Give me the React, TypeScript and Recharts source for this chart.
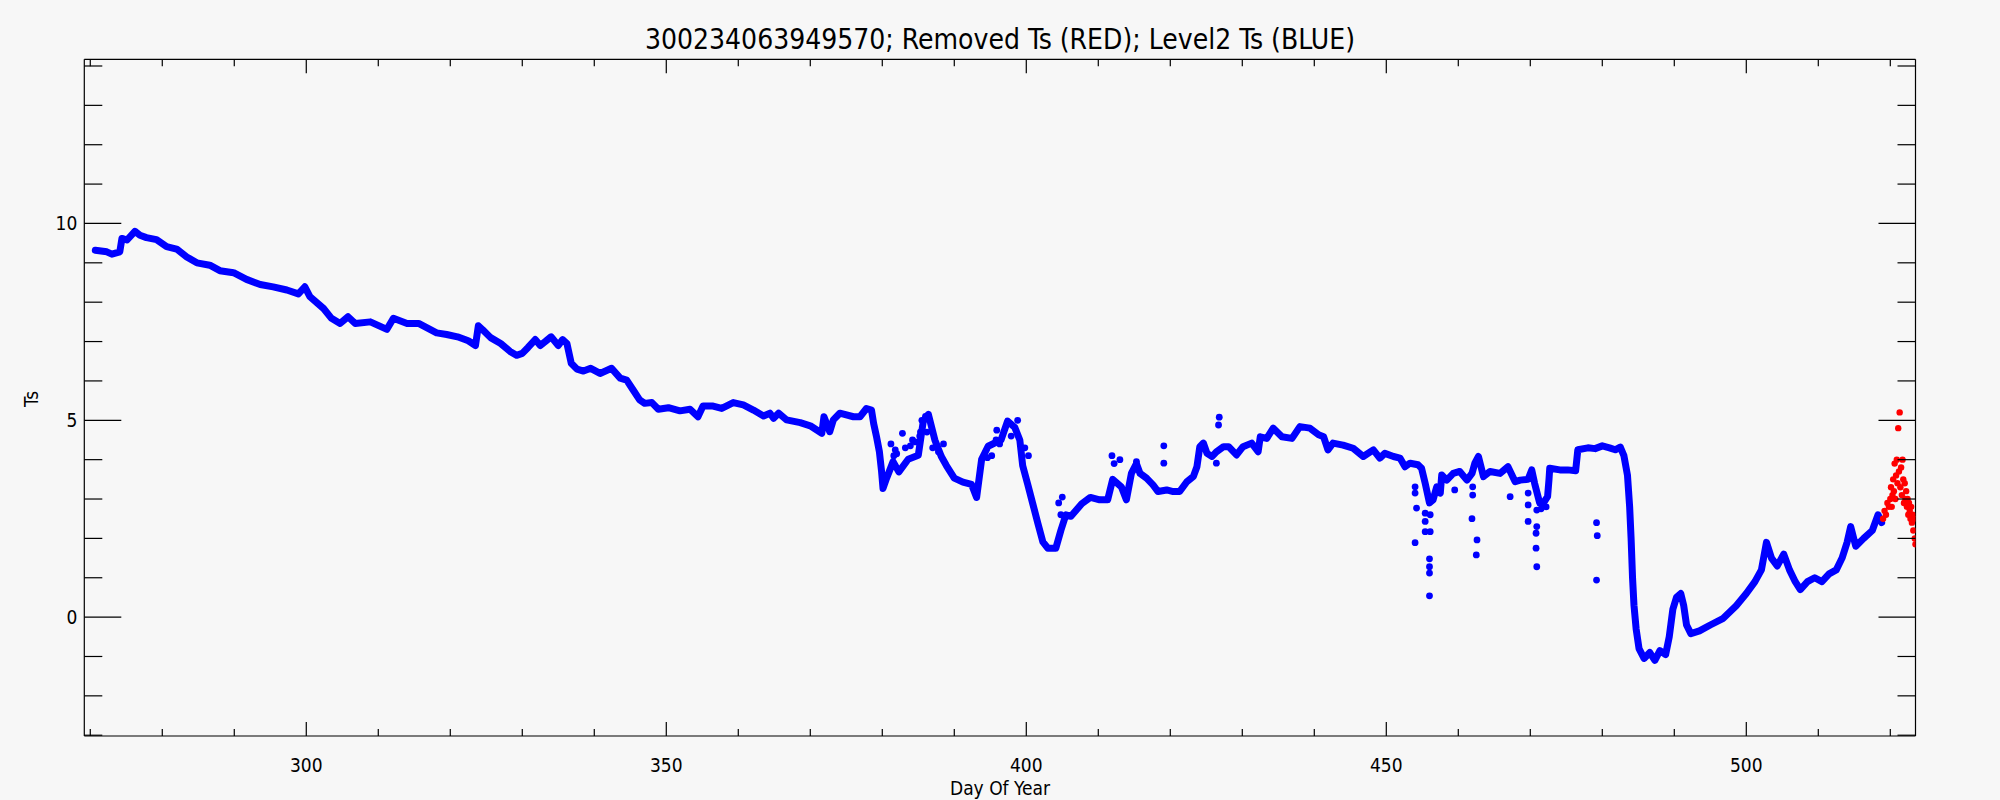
import React from 'react';
import { ComposedChart, XAxis, YAxis, Line, Scatter } from 'recharts';

const TITLE = '300234063949570; Removed Ts (RED); Level2 Ts (BLUE)';
const X_LABEL = 'Day Of Year';
const Y_LABEL = 'Ts';

const xTicks = [270, 280, 290, 300, 310, 320, 330, 340, 350, 360, 370, 380, 390, 400, 410, 420, 430, 440, 450, 460, 470, 480, 490, 500, 510, 520];
const xLabelTicks = [300, 350, 400, 450, 500];
const yTicks = [-3, -2, -1, 0, 1, 2, 3, 4, 5, 6, 7, 8, 9, 10, 11, 12, 13, 14];
const yLabelTicks = [0, 5, 10];

// Level2 Ts main trail (blue)
const trailDays = [
  270.7, 272.3, 273.0, 274.1, 274.4, 275.1, 276.2, 276.9, 277.8, 279.2, 280.6, 282.0, 283.4, 284.8, 286.6, 288.0,
  289.9, 291.7, 293.6, 295.4, 297.3, 298.9, 299.8, 300.5, 302.4, 303.5, 304.7, 305.8, 306.8, 308.9, 311.2, 312.1,
  314.0, 315.6, 318.1, 319.5, 321.0, 322.5, 323.5, 323.9, 324.5, 325.6, 327.0, 328.3, 329.2, 330.0, 330.8, 331.8,
  332.5, 333.2, 334.0, 335.0, 335.6, 336.2, 336.8, 337.6, 338.5, 339.5, 340.8, 342.4, 343.6, 344.5, 345.4, 346.3,
  347.0, 348.0, 348.9, 350.3, 351.9, 353.3, 354.4, 355.1, 356.5, 357.7, 359.3, 360.7, 362.1, 363.5, 364.4, 364.9,
  365.6, 366.7, 368.6, 370.0, 371.6, 371.9, 372.7, 373.2, 374.1, 376.0, 376.9, 377.8, 378.5, 378.8, 379.2, 379.6,
  379.9, 380.1, 380.6, 381.5, 382.3, 383.6, 385.0, 385.7, 386.4, 387.3, 388.2, 388.9, 390.0, 391.2, 392.4, 393.1,
  393.8, 394.7, 396.5, 397.4, 398.4, 399.1, 399.5, 400.2, 400.9, 401.6, 402.3, 403.0, 404.1, 404.8, 405.5, 406.2,
  407.7, 408.9, 410.2, 411.3, 412.0, 413.2, 413.9, 414.6, 415.3, 415.8, 416.7, 417.6, 418.3, 419.5, 420.4, 421.3,
  422.3, 423.2, 423.7, 424.1, 424.6, 425.1, 425.8, 426.4, 427.4, 428.1, 429.2, 430.1, 431.3, 432.2, 432.5, 433.4,
  434.3, 435.5, 436.9, 438.0, 439.4, 440.6, 441.3, 441.9, 442.6, 444.0, 445.4, 446.8, 448.2, 449.1, 449.8, 451.0,
  451.9, 452.6, 453.3, 454.4, 454.9, 455.4, 456.0, 456.5, 457.0, 457.5, 457.7, 458.4, 459.3, 460.2, 461.2, 461.9,
  462.3, 462.8, 463.5, 464.4, 465.8, 466.9, 467.9, 468.6, 469.7, 470.2, 470.6, 471.3, 472.0, 472.4, 472.6, 472.7,
  474.1, 475.2, 476.3, 476.6, 478.0, 479.0, 480.0, 481.0, 481.8, 482.5, 483.0, 483.5, 483.8, 484.0, 484.2, 484.4,
  484.7, 485.1, 485.8, 486.6, 487.3, 488.0, 488.8, 489.3, 489.8, 490.3, 490.9, 491.3, 491.7, 492.3, 493.5, 495.0,
  496.8, 498.6, 500.0, 501.2, 502.1, 502.8, 503.5, 504.3, 505.2, 506.0, 506.8, 507.5, 508.5, 509.5, 510.5, 511.5,
  512.5, 513.3, 514.0, 514.5, 515.2, 516.3, 517.5, 518.3, 518.8,
];
const trailTs = [
  9.32, 9.28, 9.22, 9.28, 9.62, 9.58, 9.80, 9.70, 9.64, 9.59, 9.41, 9.35, 9.15, 9.00, 8.94, 8.80,
  8.75, 8.58, 8.45, 8.39, 8.31, 8.21, 8.39, 8.14, 7.84, 7.59, 7.46, 7.63, 7.46, 7.50, 7.31, 7.59,
  7.46, 7.46, 7.22, 7.18, 7.12, 7.02, 6.90, 7.40, 7.30, 7.10, 6.95, 6.75, 6.65, 6.70, 6.85, 7.05,
  6.90, 7.00, 7.12, 6.90, 7.05, 6.95, 6.45, 6.30, 6.25, 6.32, 6.19, 6.32, 6.07, 6.02, 5.77, 5.52,
  5.43, 5.45, 5.28, 5.32, 5.24, 5.28, 5.09, 5.36, 5.36, 5.30, 5.45, 5.39, 5.26, 5.11, 5.18, 5.05,
  5.18, 5.01, 4.94, 4.86, 4.67, 5.09, 4.71, 5.01, 5.18, 5.09, 5.09, 5.30, 5.26, 4.92, 4.58, 4.20,
  3.70, 3.27, 3.53, 3.95, 3.69, 4.01, 4.11, 4.98, 5.15, 4.50, 4.08, 3.85, 3.53, 3.43, 3.37, 3.04,
  4.01, 4.34, 4.50, 4.98, 4.82, 4.50, 3.85, 3.37, 2.88, 2.39, 1.91, 1.75, 1.75, 2.20, 2.60, 2.56,
  2.88, 3.04, 2.98, 2.98, 3.50, 3.31, 2.98, 3.65, 3.90, 3.65, 3.53, 3.36, 3.19, 3.23, 3.19, 3.19,
  3.44, 3.57, 3.82, 4.33, 4.42, 4.16, 4.08, 4.20, 4.33, 4.33, 4.12, 4.33, 4.42, 4.20, 4.58, 4.54,
  4.80, 4.58, 4.54, 4.84, 4.80, 4.63, 4.58, 4.25, 4.42, 4.37, 4.29, 4.08, 4.25, 4.04, 4.16, 4.08,
  4.04, 3.82, 3.91, 3.87, 3.78, 3.40, 2.90, 2.98, 3.31, 3.15, 3.61, 3.48, 3.65, 3.70, 3.48, 3.65,
  3.91, 4.08, 3.57, 3.70, 3.65, 3.82, 3.44, 3.48, 3.50, 3.74, 3.40, 2.90, 2.95, 3.06, 3.50, 3.78,
  3.74, 3.74, 3.72, 4.25, 4.30, 4.28, 4.35, 4.30, 4.25, 4.32, 4.10, 3.60, 2.80, 2.00, 1.00, 0.30,
  -0.30, -0.80, -1.05, -0.90, -1.10, -0.85, -0.95, -0.50, 0.20, 0.50, 0.60, 0.30, -0.20, -0.42, -0.35, -0.20,
  -0.03, 0.29, 0.60, 0.90, 1.20, 1.90, 1.50, 1.30, 1.60, 1.20, 0.90, 0.70, 0.90, 1.00, 0.90, 1.10,
  1.20, 1.50, 1.90, 2.30, 1.80, 2.00, 2.20, 2.60, 2.40,
];

// Level2 Ts scattered samples (blue)
const blueDotDays = [
  381.2, 381.6, 381.8, 382.0, 382.8, 383.2, 383.9, 384.2, 384.6, 385.2, 385.3, 385.5, 386.0, 386.2, 387.0,
  387.8, 388.5, 394.6, 395.2, 395.8, 395.9, 396.3, 397.9, 398.8, 399.8, 400.3, 404.5, 404.8, 405.0,
  411.9, 412.2, 413.0, 415.3, 419.1, 419.1, 426.4, 426.7, 426.8, 454.0, 454.0, 454.0, 454.2,
  455.4, 455.4, 455.4, 456.0, 456.0, 456.0, 456.0, 456.1, 456.1, 459.5, 461.9, 462.0, 462.0, 462.5, 462.6,
  467.2, 469.7, 469.7, 469.7, 470.8, 470.8, 470.9, 470.9, 470.9, 471.5, 471.8, 472.2, 479.2, 479.2, 479.3,
];
const blueDotTs = [
  4.40, 4.10, 4.25, 4.15, 4.67, 4.30, 4.35, 4.50, 4.45, 4.60, 4.70, 5.00, 5.10, 4.70, 4.30,
  4.20, 4.40, 4.05, 4.10, 4.50, 4.75, 4.40, 4.60, 5.00, 4.30, 4.10, 2.90, 2.60, 3.05,
  4.10, 3.90, 4.00, 3.95, 4.35, 3.91, 3.91, 4.88, 5.08, 1.89, 3.15, 3.31, 2.77,
  2.64, 2.43, 2.17, 1.48, 1.28, 1.12, 0.54, 2.17, 2.60, 3.23, 2.50, 3.31, 3.10, 1.58, 1.96,
  3.06, 3.15, 2.85, 2.43, 2.13, 1.75, 2.72, 2.30, 1.28, 2.75, 2.90, 2.80, 0.94, 2.40, 2.07,
];

// Removed Ts (red)
const redDays = [
  519.0, 519.2, 519.4, 519.6, 519.8, 520.0, 520.1, 520.2, 520.3, 520.4, 520.5, 520.6, 520.7, 520.8, 520.9,
  521.0, 521.1, 521.2, 521.3, 521.4, 521.5, 521.6, 521.7, 521.8, 521.9, 522.0, 522.1, 522.2, 522.3, 522.4,
  522.5, 522.6, 522.7, 522.8, 522.9, 523.0, 523.1, 523.2, 523.3, 523.4, 523.5,
];
const redTs = [
  2.50, 2.70, 2.60, 2.90, 2.80, 3.00, 3.30, 2.80, 3.10, 3.50, 3.20, 3.90, 3.00, 3.60, 4.00,
  3.40, 4.80, 3.70, 5.20, 3.30, 3.80, 3.10, 4.00, 3.50, 2.90, 3.40, 3.00, 3.20, 2.80, 3.00,
  2.60, 2.90, 2.70, 2.50, 2.80, 2.40, 2.60, 2.20, 2.50, 2.00, 1.85,
];

const trailData = trailDays.map((d, i) => ({ day: d, ts: trailTs[i] }));
const blueDots = blueDotDays.map((d, i) => ({ day: d, ts: blueDotTs[i] }));
const redDots = redDays.map((d, i) => ({ day: d, ts: redTs[i] }));

const W = 2000;
const H = 800;
const PLOT_LEFT = 84.3;
const PLOT_TOP = 59.3;
const PLOT_RIGHT = 1915.5;
const PLOT_BOTTOM = 736;
const X_DOMAIN: [number, number] = [269.17, 523.5];
const Y_DOMAIN: [number, number] = [-3.02, 14.17];

const FONT = "'DejaVu Sans Condensed', 'Liberation Sans Narrow', 'DejaVu Sans', sans-serif";
const BG = '#f7f7f7';
const AX = '#000000';

const BottomTick = (props: any) => {
  const { x, y, payload } = props;
  const major = xLabelTicks.includes(payload.value);
  return (
    <g>
      <line x1={x} y1={y} x2={x} y2={y - (major ? 14 : 7)} stroke={AX} strokeWidth={1.2} />
      {major && (
        <text x={x} y={y + 36} textAnchor="middle" fontFamily={FONT} fontSize={19} fill={AX}>
          {payload.value}
        </text>
      )}
    </g>
  );
};

const TopTick = (props: any) => {
  const { x, y, payload } = props;
  const major = xLabelTicks.includes(payload.value);
  return <line x1={x} y1={y} x2={x} y2={y + (major ? 14 : 7)} stroke={AX} strokeWidth={1.2} />;
};

const LeftTick = (props: any) => {
  const { x, y, payload } = props;
  const major = yLabelTicks.includes(payload.value);
  return (
    <g>
      <line x1={x} y1={y} x2={x + (major ? 37 : 18)} y2={y} stroke={AX} strokeWidth={1.2} />
      {major && (
        <text x={x - 7} y={y + 7} textAnchor="end" fontFamily={FONT} fontSize={19} fill={AX}>
          {payload.value}
        </text>
      )}
    </g>
  );
};

const RightTick = (props: any) => {
  const { x, y, payload } = props;
  const major = yLabelTicks.includes(payload.value);
  return <line x1={x} y1={y} x2={x - (major ? 37 : 18)} y2={y} stroke={AX} strokeWidth={1.2} />;
};

const BlueDot = (p: any) => <circle cx={p.cx} cy={p.cy} r={3.4} fill="#0000ff" />;
const RedDot = (p: any) => <circle cx={p.cx} cy={p.cy} r={3.2} fill="#ff0000" />;

export default function App() {
  return (
    <div style={{ position: 'absolute', left: 0, top: 0, width: W, height: H, background: BG }}>
      <ComposedChart
        width={W}
        height={H}
        margin={{ top: PLOT_TOP - 1, left: PLOT_LEFT - 1, right: W - PLOT_RIGHT - 1, bottom: H - PLOT_BOTTOM - 1 }}
      >
        <XAxis
          xAxisId="b"
          dataKey="day"
          type="number"
          domain={X_DOMAIN}
          allowDataOverflow
          ticks={xTicks}
          interval={0}
          orientation="bottom"
          height={1}
          tickSize={0}
          tickMargin={0}
          tickLine={false}
          tick={<BottomTick />}
          axisLine={{ stroke: AX, strokeWidth: 1.2 }}
        />
        <XAxis
          xAxisId="t"
          dataKey="day"
          type="number"
          domain={X_DOMAIN}
          allowDataOverflow
          ticks={xTicks}
          interval={0}
          orientation="top"
          height={1}
          tickSize={0}
          tickMargin={0}
          tickLine={false}
          tick={<TopTick />}
          axisLine={{ stroke: AX, strokeWidth: 1.2 }}
        />
        <YAxis
          yAxisId="l"
          dataKey="ts"
          type="number"
          domain={Y_DOMAIN}
          allowDataOverflow
          ticks={yTicks}
          interval={0}
          orientation="left"
          width={1}
          tickSize={0}
          tickMargin={0}
          tickLine={false}
          tick={<LeftTick />}
          axisLine={{ stroke: AX, strokeWidth: 1.2 }}
        />
        <YAxis
          yAxisId="r"
          dataKey="ts"
          type="number"
          domain={Y_DOMAIN}
          allowDataOverflow
          ticks={yTicks}
          interval={0}
          orientation="right"
          width={1}
          tickSize={0}
          tickMargin={0}
          tickLine={false}
          tick={<RightTick />}
          axisLine={{ stroke: AX, strokeWidth: 1.2 }}
        />
        <Line
          data={trailData}
          xAxisId="b"
          yAxisId="l"
          dataKey="ts"
          type="linear"
          stroke="#0000ff"
          strokeWidth={7}
          strokeLinejoin="round"
          strokeLinecap="round"
          dot={false}
          activeDot={false}
          isAnimationActive={false}
        />
        <Scatter data={blueDots} xAxisId="b" yAxisId="l" dataKey="ts" shape={<BlueDot />} isAnimationActive={false} />
        <Scatter data={redDots} xAxisId="b" yAxisId="l" dataKey="ts" shape={<RedDot />} isAnimationActive={false} />
        <Line data={trailData} xAxisId="t" yAxisId="r" dataKey="ts" stroke="none" dot={false} activeDot={false} isAnimationActive={false} />
      </ComposedChart>
      <svg width={W} height={H} style={{ position: 'absolute', left: 0, top: 0, pointerEvents: 'none' }}>
        <text x={1000} y={49} textAnchor="middle" fontFamily={FONT} fontSize={28} fill={AX}>
          {TITLE}
        </text>
        <text x={1000} y={795} textAnchor="middle" fontFamily={FONT} fontSize={19} fill={AX}>
          {X_LABEL}
        </text>
        <text x={38} y={399} textAnchor="middle" fontFamily={FONT} fontSize={19} fill={AX} transform="rotate(-90 38 399)">
          {Y_LABEL}
        </text>
      </svg>
    </div>
  );
}
